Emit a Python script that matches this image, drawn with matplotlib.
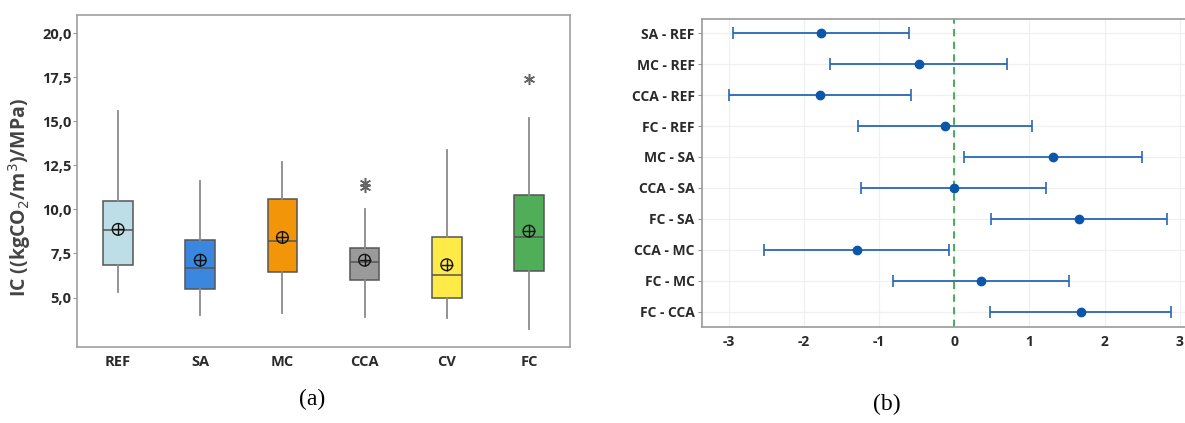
import numpy as np
import matplotlib

matplotlib.use("Agg")
import matplotlib.pyplot as plt

plt.rcParams["font.family"] = ["Open Sans", "DejaVu Sans"]
plt.rcParams["axes.unicode_minus"] = False

# (a) box plot summary values
groups = ["REF", "SA", "MC", "CCA", "CV", "FC"]
whisk_lo = [5.34, 4.02, 4.12, 3.89, 3.83, 3.21]
q1 = [6.86, 5.48, 6.44, 6.01, 4.97, 6.50]
medians = [8.84, 6.69, 8.22, 6.99, 6.27, 8.45]
q3 = [10.47, 8.28, 10.58, 7.80, 8.41, 10.83]
whisk_hi = [15.59, 11.62, 12.72, 10.03, 13.38, 15.21]
means = [8.87, 7.12, 8.41, 7.12, 6.86, 8.77]
outliers = [[], [], [], [11.5, 11.3], [], [17.41]]
box_colors = ["#bddde7", "#3b87e0", "#f39508", "#9a9a9a", "#ffeb47", "#50ae59"]
yticks_a = [5.0, 7.5, 10.0, 12.5, 15.0, 17.5, 20.0]

# (b) pairwise differences with intervals
pairs = ["SA - REF", "MC - REF", "CCA - REF", "FC - REF", "MC - SA",
         "CCA - SA", "FC - SA", "CCA - MC", "FC - MC", "FC - CCA"]
diff = [-1.77, -0.47, -1.78, -0.12, 1.32, 0.0, 1.66, -1.29, 0.36, 1.68]
ci_lo = [-2.94, -1.65, -2.99, -1.28, 0.13, -1.24, 0.49, -2.53, -0.81, 0.47]
ci_hi = [-0.60, 0.70, -0.58, 1.03, 2.50, 1.22, 2.83, -0.07, 1.53, 2.88]
xticks_b = [-3, -2, -1, 0, 1, 2, 3]

fig = plt.figure(figsize=(11.85, 4.23), dpi=100)

# ---- panel (a)
ax1 = fig.add_axes([0.065, 0.180, 0.416, 0.785])
stats = []
for i, g in enumerate(groups):
    stats.append(dict(label=g, whislo=whisk_lo[i], q1=q1[i], med=medians[i],
                      q3=q3[i], whishi=whisk_hi[i], mean=means[i],
                      fliers=outliers[i]))
pos = np.arange(1, len(groups) + 1)
bp = ax1.bxp(stats, positions=pos, widths=0.36, patch_artist=True,
             showcaps=False, showfliers=True, showmeans=False,
             boxprops=dict(edgecolor="#555555", linewidth=1.1),
             medianprops=dict(color="#555555", linewidth=1.1),
             whiskerprops=dict(color="#8a8a8a", linewidth=1.3),
             flierprops=dict(marker=(6, 2, 0), markersize=8, markeredgecolor="#666666",
                             markeredgewidth=1.1, linestyle="none"))
for patch, c in zip(bp["boxes"], box_colors):
    patch.set_facecolor(c)
ax1.scatter(pos, means, s=70, facecolors="none", edgecolors="#111111",
            linewidths=1.0, zorder=4)
ax1.scatter(pos, means, s=70, marker="+", color="#111111", linewidths=1.0, zorder=4)

ax1.set_xlim(0.5, 6.5)
ax1.set_ylim(2.2, 21.05)
ax1.set_yticks(yticks_a)
ax1.set_yticklabels([f"{v:.1f}".replace(".", ",") for v in yticks_a])
ax1.set_xticks(pos)
ax1.set_xticklabels(groups)
for lab in ax1.get_xticklabels() + ax1.get_yticklabels():
    lab.set_fontsize(10.5)
    lab.set_fontweight("bold")
    lab.set_color("#2a2a2a")
ax1.tick_params(axis="y", length=3, color="#999999", pad=1)
ax1.tick_params(axis="x", length=0, pad=6)
for sp in ax1.spines.values():
    sp.set_color("#a0a0a0")
    sp.set_linewidth(1.2)
ax1.set_ylabel("IC ((kgCO$_2$/m$^3$)/MPa)", fontsize=14, fontweight="bold",
               color="#444444")
ax1.yaxis.set_label_coords(-0.09, 0.45)

fig.text(0.263, 0.042, "(a)", fontsize=17, family="Liberation Serif", ha="center")

# ---- panel (b)
ax2 = fig.add_axes([0.592, 0.227, 0.41, 0.727])
ypos = np.arange(len(pairs))
ax2.set_axisbelow(True)
ax2.grid(True, color="#f0f0f0", linewidth=0.9)
ax2.errorbar(diff, ypos, xerr=[np.array(diff) - np.array(ci_lo),
                               np.array(ci_hi) - np.array(diff)],
             fmt="o", color="#0a56a8", ecolor="#2a67b3", elinewidth=1.3,
             capsize=4, capthick=1.2, markersize=6, zorder=3)
ax2.axvline(0, color="#3aa84a", linestyle=(0, (4, 3)), linewidth=1.3, zorder=2)
ax2.set_ylim(len(pairs) - 0.5, -0.45)
ax2.set_xlim(-3.36, 3.1)
ax2.set_yticks(ypos)
ax2.set_yticklabels(pairs)
ax2.set_xticks(xticks_b)
for lab in ax2.get_xticklabels() + ax2.get_yticklabels():
    lab.set_fontsize(10)
    lab.set_fontweight("bold")
    lab.set_color("#2a2a2a")
ax2.tick_params(axis="y", length=3, color="#999999", pad=2)
ax2.tick_params(axis="x", length=0, pad=6)
for sp in ax2.spines.values():
    sp.set_color("#999999")
    sp.set_linewidth(1.2)

fig.text(0.748, 0.03, "(b)", fontsize=17, family="Liberation Serif", ha="center")

fig.savefig("out.png", dpi=100)
